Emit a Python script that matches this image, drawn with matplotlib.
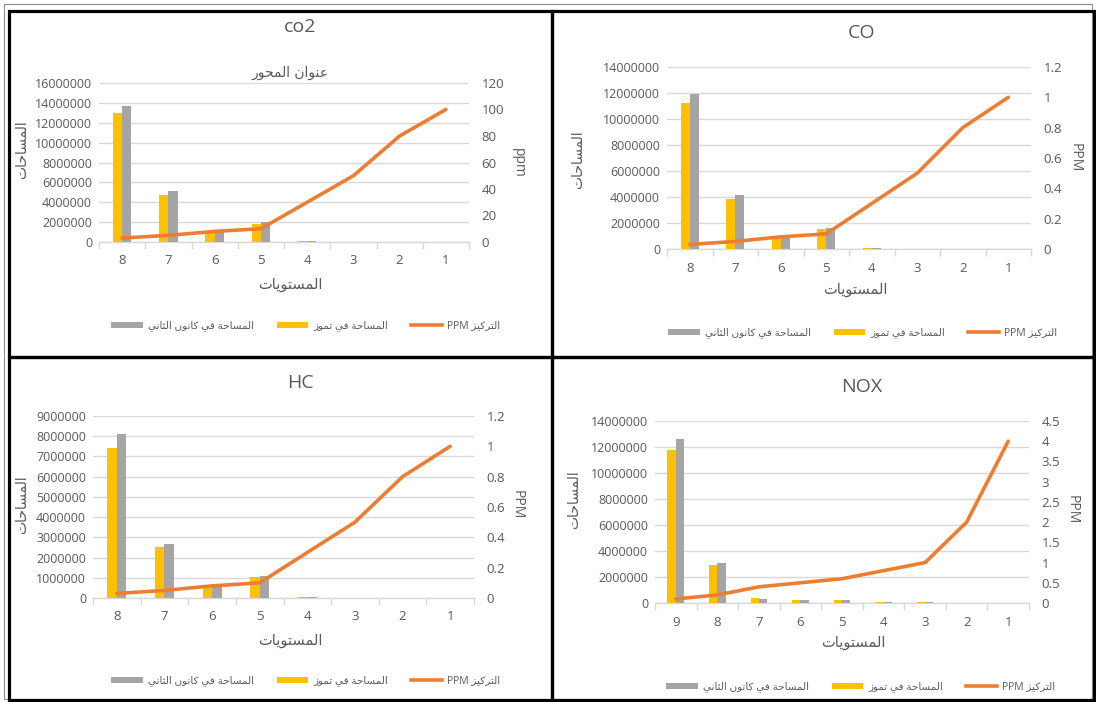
import re
import numpy as np
import matplotlib
matplotlib.use('Agg')
import matplotlib.pyplot as plt
from matplotlib.patches import Rectangle, Patch
from matplotlib.lines import Line2D

# ---------------- data ----------------
co2_levels = ['8', '7', '6', '5', '4', '3', '2', '1']
co2_july = [13000000, 4760000, 1000000, 1840000, 150000, 0, 0, 0]
co2_jan = [13650000, 5130000, 1150000, 1980000, 120000, 0, 0, 0]
co2_ppm = [3, 5, 8, 10, 30, 50, 80, 100]

co_levels = ['8', '7', '6', '5', '4', '3', '2', '1']
co_july = [11240000, 3830000, 900000, 1530000, 100000, 0, 0, 0]
co_jan = [11960000, 4190000, 1000000, 1630000, 90000, 0, 0, 0]
co_ppm = [0.03, 0.05, 0.08, 0.1, 0.3, 0.5, 0.8, 1.0]

hc_levels = ['8', '7', '6', '5', '4', '3', '2', '1']
hc_july = [7400000, 2500000, 600000, 1030000, 60000, 0, 0, 0]
hc_jan = [8130000, 2670000, 600000, 1080000, 50000, 0, 0, 0]
hc_ppm = [0.03, 0.05, 0.08, 0.1, 0.3, 0.5, 0.8, 1.0]

nox_levels = ['9', '8', '7', '6', '5', '4', '3', '2', '1']
nox_july = [11800000, 2890000, 350000, 220000, 220000, 100000, 100000, 0, 0]
nox_jan = [12650000, 3070000, 300000, 200000, 200000, 80000, 80000, 0, 0]
nox_ppm = [0.1, 0.2, 0.4, 0.5, 0.6, 0.8, 1.0, 2.0, 4.0]

titles = ['co2', 'CO', 'HC', 'NOX']
right_labels = ['ppm', 'PPM', 'PPM', 'PPM']
label_y = 'المساحات'
label_x = 'المستويات'
axis_title = 'عنوان المحور'
legend_jan = 'المساحة في كانون الثاني'
legend_july = 'المساحة في تموز'
legend_ppm = 'التركيز PPM'

# ---------------- minimal Arabic shaping for display ----------------
FORMS = {
    '\u0627': ('\uFE8D', '\uFE8E', None, None),
    '\u0629': ('\uFE93', '\uFE94', None, None),
    '\u062A': ('\uFE95', '\uFE96', '\uFE97', '\uFE98'),
    '\u062B': ('\uFE99', '\uFE9A', '\uFE9B', '\uFE9C'),
    '\u062D': ('\uFEA1', '\uFEA2', '\uFEA3', '\uFEA4'),
    '\u0631': ('\uFEAD', '\uFEAE', None, None),
    '\u0632': ('\uFEAF', '\uFEB0', None, None),
    '\u0633': ('\uFEB1', '\uFEB2', '\uFEB3', '\uFEB4'),
    '\u0639': ('\uFEC9', '\uFECA', '\uFECB', '\uFECC'),
    '\u0641': ('\uFED1', '\uFED2', '\uFED3', '\uFED4'),
    '\u0643': ('\uFED9', '\uFEDA', '\uFEDB', '\uFEDC'),
    '\u0644': ('\uFEDD', '\uFEDE', '\uFEDF', '\uFEE0'),
    '\u0645': ('\uFEE1', '\uFEE2', '\uFEE3', '\uFEE4'),
    '\u0646': ('\uFEE5', '\uFEE6', '\uFEE7', '\uFEE8'),
    '\u0648': ('\uFEED', '\uFEEE', None, None),
    '\u064A': ('\uFEF1', '\uFEF2', '\uFEF3', '\uFEF4'),
}


def shape(text):
    chars = list(text)
    out = []
    for i, c in enumerate(chars):
        if c not in FORMS:
            out.append(c)
            continue
        prev = chars[i - 1] if i > 0 else None
        nxt = chars[i + 1] if i + 1 < len(chars) else None
        jp = prev in FORMS and FORMS[prev][2] is not None
        jn = FORMS[c][2] is not None and nxt in FORMS
        iso, fin, ini, med = FORMS[c]
        out.append(med if (jp and jn) else fin if jp else ini if jn else iso)
    s = ''.join(out)
    toks = re.findall(r'[A-Za-z0-9]+|[^A-Za-z0-9]+', s)
    toks = [t if re.match(r'[A-Za-z0-9]', t) else t[::-1] for t in toks]
    return ''.join(toks[::-1])


# ---------------- style ----------------
W, H = 1096, 702
YELLOW = '#FFC000'
GRAY = '#A5A5A5'
ORANGE = '#ED7D31'
GRID = '#D9D9D9'
TXT = '#595959'
NUMFONT = ['Open Sans', 'DejaVu Sans']
ARFONT = ['DejaVu Sans']

fig = plt.figure(figsize=(W / 100, H / 100), dpi=100)


def fx(x):
    return x / W


def fy(y):
    return 1 - y / H


# panel borders (pixels: x0, y0, x1, y1)
fig.patches.append(Rectangle((fx(4), fy(699)), fx(1092) - fx(4), fy(4) - fy(699),
                             transform=fig.transFigure, fill=False, ec='#8c8c8c', lw=0.8))
for (x0, y0, x1, y1) in [(9, 11, 552, 357), (552, 11, 1094, 357),
                         (9, 357, 552, 700), (552, 357, 1094, 700)]:
    fig.patches.append(Rectangle((fx(x0), fy(y1)), fx(x1) - fx(x0), fy(y0) - fy(y1),
                                 transform=fig.transFigure, fill=False, ec='black', lw=2.3))

panels = [
    dict(levels=co2_levels, july=co2_july, jan=co2_jan, ppm=co2_ppm,
         lmax=16000000, lstep=2000000, rmax=120, rstep=20,
         box=(99, 83, 469, 242), title=(300, 27), ylab=(22, 150), rlab=(518, 163),
         xlab=(290, 285), leg=(306, 326), atitle=(290, 73)),
    dict(levels=co_levels, july=co_july, jan=co_jan, ppm=co_ppm,
         lmax=14000000, lstep=2000000, rmax=1.2, rstep=0.2,
         box=(667, 67, 1031, 249), title=(862, 33), ylab=(578, 160), rlab=(1075, 158),
         xlab=(855, 290), leg=(863, 333), atitle=None),
    dict(levels=hc_levels, july=hc_july, jan=hc_jan, ppm=hc_ppm,
         lmax=9000000, lstep=1000000, rmax=1.2, rstep=0.2,
         box=(93, 416, 474, 598), title=(300, 383), ylab=(22, 505), rlab=(517, 505),
         xlab=(290, 640), leg=(306, 681), atitle=None),
    dict(levels=nox_levels, july=nox_july, jan=nox_jan, ppm=nox_ppm,
         lmax=14000000, lstep=2000000, rmax=4.5, rstep=0.5,
         box=(655, 421, 1029, 603), title=(862, 387), ylab=(574, 500), rlab=(1072, 510),
         xlab=(853, 643), leg=(861, 687), atitle=None),
]

for p, title, rl in zip(panels, titles, right_labels):
    x0, y0, x1, y1 = p['box']
    ax = fig.add_axes([fx(x0), fy(y1), fx(x1) - fx(x0), fy(y0) - fy(y1)])
    n = len(p['levels'])
    x = np.arange(n)
    bw = 0.2
    ax.bar(x - bw / 2, p['july'], width=bw, color=YELLOW, zorder=2)
    ax.bar(x + bw / 2, p['jan'], width=bw, color=GRAY, zorder=2)
    ax.set_xlim(-0.5, n - 0.5)
    ax.set_ylim(0, p['lmax'])
    ax.set_yticks(np.arange(0, p['lmax'] + p['lstep'] / 2, p['lstep']))
    ax.set_yticklabels([f'{int(round(v))}' for v in ax.get_yticks()])
    ax.yaxis.grid(True, color=GRID, lw=1.0, zorder=0)
    ax.set_axisbelow(True)
    for s in ['left', 'right', 'top']:
        ax.spines[s].set_visible(False)
    ax.spines['bottom'].set_color(GRID)
    ax.spines['bottom'].set_linewidth(1.0)
    ax.spines['bottom'].set_zorder(1)
    ax.set_xticks(x)
    ax.set_xticklabels(p['levels'])
    ax.set_xticks(np.arange(-0.5, n, 1.0), minor=True)
    ax.tick_params(axis='x', which='major', length=0, pad=9, labelsize=9.5, labelcolor=TXT)
    ax.tick_params(axis='x', which='minor', length=5, color=GRID, width=1.0)
    ax.tick_params(axis='y', length=0, pad=5, labelsize=9, labelcolor=TXT)
    for lab in ax.get_xticklabels() + ax.get_yticklabels():
        lab.set_fontfamily(NUMFONT)

    ax2 = ax.twinx()
    ax2.plot(x, p['ppm'], color=ORANGE, lw=2.6, solid_capstyle='round', zorder=3)
    ax2.set_ylim(0, p['rmax'])
    rt = np.arange(0, p['rmax'] + p['rstep'] / 2, p['rstep'])
    ax2.set_yticks(rt)
    ax2.set_yticklabels([f'{v:g}' for v in np.round(rt, 2)])
    ax2.tick_params(axis='y', length=0, pad=9, labelsize=9.5, labelcolor=TXT)
    for lab in ax2.get_yticklabels():
        lab.set_fontfamily(NUMFONT)
    for s in ax2.spines.values():
        s.set_visible(False)

    fig.text(fx(p['title'][0]), fy(p['title'][1]), title, ha='center', va='center',
             fontsize=14, color=TXT, family=NUMFONT)
    fig.text(fx(p['ylab'][0]), fy(p['ylab'][1]), shape(label_y), rotation=90,
             ha='center', va='center', fontsize=10, color=TXT, family=ARFONT)
    fig.text(fx(p['rlab'][0]), fy(p['rlab'][1]), rl, rotation=-90,
             ha='center', va='center', fontsize=10, color=TXT, family=NUMFONT)
    fig.text(fx(p['xlab'][0]), fy(p['xlab'][1]), shape(label_x),
             ha='center', va='center', fontsize=10.5, color=TXT, family=ARFONT)
    if p['atitle'] is not None:
        fig.text(fx(p['atitle'][0]), fy(p['atitle'][1]), shape(axis_title),
                 ha='center', va='center', fontsize=10, color=TXT, family=ARFONT)

    handles = [Patch(facecolor=GRAY, edgecolor='none'),
               Patch(facecolor=YELLOW, edgecolor='none'),
               Line2D([], [], color=ORANGE, lw=2.6)]
    labels = [shape(legend_jan), shape(legend_july), shape(legend_ppm)]
    leg = fig.legend(handles, labels, loc='center', ncol=3,
                     bbox_to_anchor=(fx(p['leg'][0]), fy(p['leg'][1])),
                     frameon=False, handlelength=3.0, handleheight=0.6,
                     handletextpad=0.5, columnspacing=2.2,
                     prop={'family': ['Open Sans', 'DejaVu Sans'], 'size': 7.5})
    for t in leg.get_texts():
        t.set_color(TXT)

fig.savefig('out.png', dpi=100)
